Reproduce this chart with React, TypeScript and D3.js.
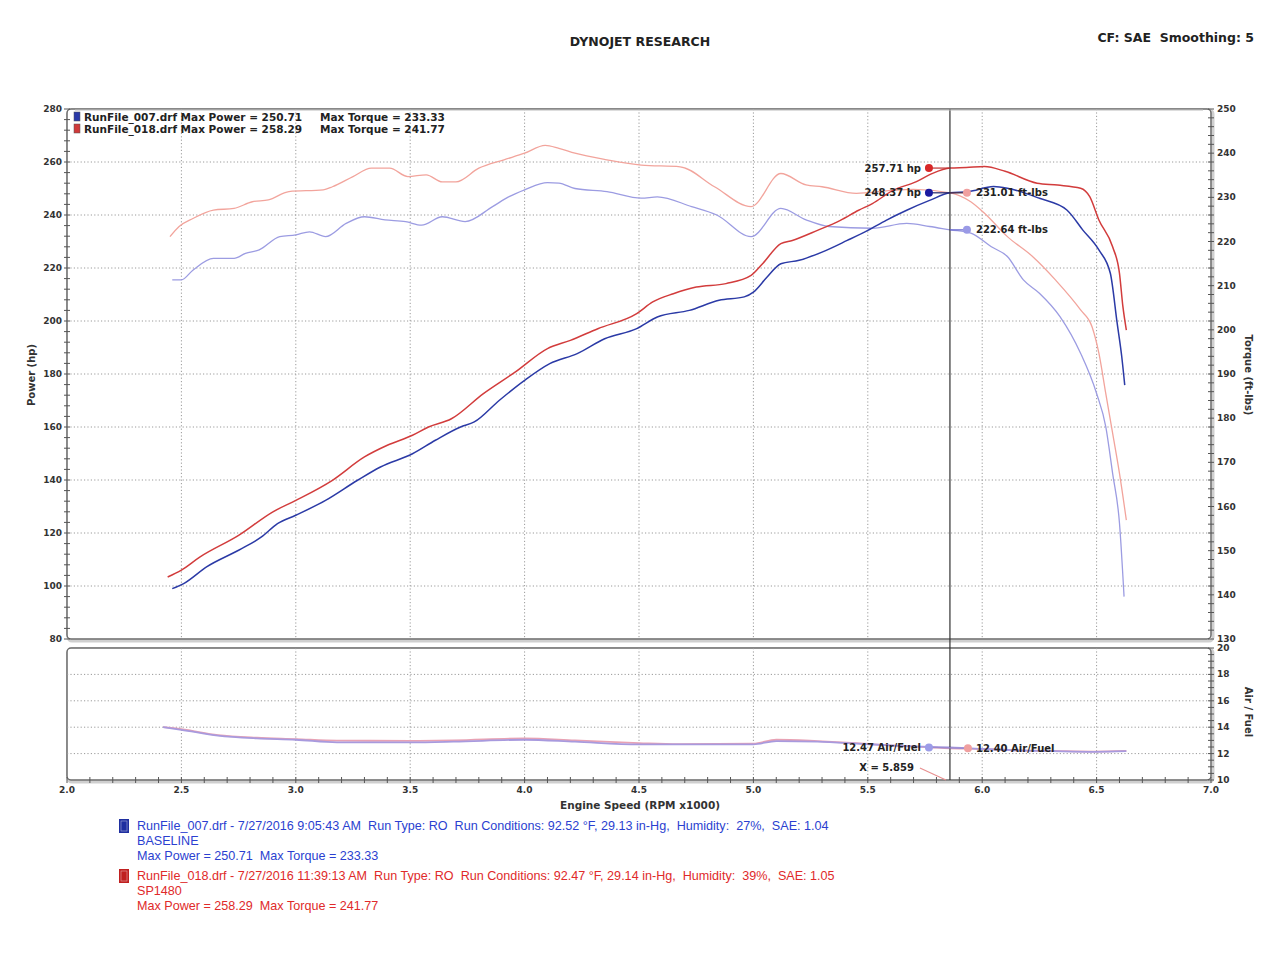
import React from "react";
import * as d3 from "d3";

// ---------- DATA ----------
const xTicks = [2.0, 2.5, 3.0, 3.5, 4.0, 4.5, 5.0, 5.5, 6.0, 6.5, 7.0];
const hpTicks = [80, 100, 120, 140, 160, 180, 200, 220, 240, 260, 280];
const tqTicks = [130, 140, 150, 160, 170, 180, 190, 200, 210, 220, 230, 240, 250];
const afrTicks = [10, 12, 14, 16, 18, 20];

// Run 018 (SP1480) power, hp
const redPowerRpm = [2.44, 2.5, 2.58, 2.75, 2.9, 3.0, 3.16, 3.3, 3.4, 3.51, 3.58, 3.68, 3.82, 3.96, 4.1, 4.2, 4.32, 4.49, 4.56, 4.65, 4.75, 4.88, 4.99, 5.04, 5.12, 5.17, 5.28, 5.38, 5.46, 5.52, 5.61, 5.71, 5.78, 5.86, 5.93, 6.01, 6.1, 6.24, 6.33, 6.43, 6.47, 6.51, 6.57, 6.6, 6.615, 6.63];
const redPowerHp = [103.4, 106, 110.9, 119.1, 128, 132.3, 139.9, 148.7, 153.1, 156.9, 160, 163.1, 172.6, 180.8, 189.6, 192.7, 197.1, 202.8, 207.2, 210.3, 212.8, 214.1, 217.2, 221.6, 229.2, 230.4, 234.2, 238, 241.8, 244.3, 249.3, 252.5, 255.6, 257.7, 257.9, 258.29, 256.5, 252, 251.3, 250.1, 246.9, 238.1, 228, 218, 205.4, 196.6];

// Run 007 (BASELINE) power, hp
const bluePowerRpm = [2.46, 2.51, 2.61, 2.75, 2.85, 2.92, 3.0, 3.13, 3.27, 3.37, 3.51, 3.61, 3.72, 3.78, 3.89, 4.0, 4.11, 4.23, 4.35, 4.49, 4.58, 4.72, 4.85, 4.96, 5.0, 5.06, 5.12, 5.2, 5.3, 5.41, 5.5, 5.58, 5.67, 5.77, 5.86, 5.94, 6.05, 6.11, 6.25, 6.37, 6.44, 6.51, 6.56, 6.59, 6.61, 6.623];
const bluePowerHp = [99, 100.9, 107.2, 113.5, 118.5, 123.5, 126.7, 132.3, 139.9, 144.9, 149.9, 155, 160, 161.9, 170.1, 177.6, 183.9, 187.7, 193.3, 197.1, 201.5, 204, 207.8, 209.1, 210.9, 216.6, 221.6, 222.9, 226, 230.4, 234.2, 238, 241.8, 245.5, 248.37, 248.8, 250.71, 250.1, 246.3, 241.9, 234.3, 226.8, 218, 199.1, 186.5, 175.8];

// Run 007 torque, ft-lbs
const blueTorqueRpm = [2.46, 2.5, 2.55, 2.64, 2.73, 2.78, 2.84, 2.93, 3.0, 3.06, 3.13, 3.22, 3.3, 3.39, 3.48, 3.55, 3.64, 3.74, 3.86, 3.93, 4.0, 4.1, 4.15, 4.22, 4.36, 4.51, 4.58, 4.73, 4.84, 4.99, 5.12, 5.23, 5.33, 5.52, 5.67, 5.77, 5.86, 5.95, 6.04, 6.11, 6.18, 6.25, 6.34, 6.43, 6.5, 6.54, 6.57, 6.6, 6.62];
const blueTorque = [211.3, 211.3, 213.5, 216.2, 216.2, 217.3, 218.1, 221.1, 221.5, 222.2, 221.1, 224.1, 225.6, 224.9, 224.5, 223.7, 225.6, 224.5, 227.9, 230.1, 231.7, 233.33, 233.2, 232, 231.3, 229.8, 230.1, 227.9, 226, 221.1, 227.5, 224.9, 223.4, 223, 224.1, 223.4, 222.64, 221.9, 218.8, 216.6, 211.3, 208.3, 203, 194.7, 185.6, 178.1, 167.5, 156.2, 139.6];

// Run 018 torque, ft-lbs
const redTorqueRpm = [2.45, 2.49, 2.55, 2.64, 2.73, 2.81, 2.88, 2.97, 3.12, 3.16, 3.25, 3.33, 3.41, 3.49, 3.57, 3.64, 3.7, 3.8, 3.91, 4.0, 4.09, 4.15, 4.22, 4.36, 4.51, 4.68, 4.83, 4.99, 5.12, 5.23, 5.3, 5.45, 5.59, 5.7, 5.86, 5.95, 6.01, 6.11, 6.22, 6.32, 6.43, 6.48, 6.51, 6.54, 6.57, 6.6, 6.63];
const redTorque = [221.1, 223.4, 225.2, 227.1, 227.5, 229, 229.4, 231.3, 231.7, 232.4, 234.7, 236.6, 236.6, 234.7, 235.1, 233.5, 233.5, 236.6, 238.5, 240, 241.77, 241.1, 240, 238.5, 237.3, 236.9, 232.4, 227.9, 235.4, 232.8, 232.4, 230.9, 231.5, 231.8, 231.01, 229, 226.4, 221.1, 216.6, 211.3, 204.5, 200.7, 194.7, 185.6, 176.6, 167.5, 156.9];

// Air / Fuel
const afrRpm = [2.42, 2.5, 2.66, 2.83, 3.0, 3.18, 3.5, 3.69, 4.0, 4.22, 4.5, 4.67, 5.0, 5.1, 5.28, 5.45, 5.62, 5.77, 5.86, 5.93, 6.14, 6.31, 6.49, 6.63];
const blueAfr = [14, 13.8, 13.36, 13.15, 13.05, 12.85, 12.85, 12.9, 13.05, 12.9, 12.7, 12.7, 12.7, 12.95, 12.9, 12.76, 12.6, 12.5, 12.47, 12.42, 12.25, 12.18, 12.13, 12.18];
const redAfr = [14, 13.85, 13.4, 13.2, 13.1, 12.98, 12.97, 13.0, 13.15, 13.0, 12.8, 12.72, 12.75, 13.05, 12.95, 12.8, 12.6, 12.48, 12.4, 12.38, 12.25, 12.2, 12.15, 12.2];

const cursorRpm = 5.859;
const cursorHpRed = 257.71;
const cursorHpBlue = 248.37;
const cursorTqRed = 231.01;
const cursorTqBlue = 222.64;
const cursorAfrBlue = 12.47;
const cursorAfrRed = 12.4;

const legendTop = [
  { name: "RunFile_007.drf Max Power = 250.71", torque: "Max Torque = 233.33", color: "#2a3aa8" },
  { name: "RunFile_018.drf Max Power = 258.29", torque: "Max Torque = 241.77", color: "#d03a3a" },
];
const legendBottom = [
  {
    line1: "RunFile_007.drf - 7/27/2016 9:05:43 AM  Run Type: RO  Run Conditions: 92.52 \u00b0F, 29.13 in-Hg,  Humidity:  27%,  SAE: 1.04",
    line2: "BASELINE",
    line3: "Max Power = 250.71  Max Torque = 233.33",
    color: "#2b3fd0",
    box: "#1f2fa0",
  },
  {
    line1: "RunFile_018.drf - 7/27/2016 11:39:13 AM  Run Type: RO  Run Conditions: 92.47 \u00b0F, 29.14 in-Hg,  Humidity:  39%,  SAE: 1.05",
    line2: "SP1480",
    line3: "Max Power = 258.29  Max Torque = 241.77",
    color: "#e02a2a",
    box: "#c02020",
  },
];

// ---------- LAYOUT ----------
const L = 67, R = 1211;
const mainTop = 109, mainBot = 639;
const lowTop = 648, lowBot = 780;

const FONT = "'DejaVu Sans', Verdana, sans-serif";
const FONT2 = "'Liberation Sans', Arial, sans-serif";
const PRE: React.CSSProperties = { whiteSpace: "pre" };

export default function App() {
  const x = d3.scaleLinear().domain([2, 7]).range([L, R]);
  const yHp = d3.scaleLinear().domain([80, 280]).range([mainBot, mainTop]);
  const yTq = d3.scaleLinear().domain([130, 250]).range([mainBot, mainTop]);
  const yAfr = d3.scaleLinear().domain([10, 20]).range([lowBot, lowTop]);

  const mk = (xs: number[], ys: number[], ys2: (v: number) => number) =>
    d3.line<number>().x((_, i) => x(xs[i])).y((v) => ys2(v)).curve(d3.curveMonotoneX)(ys) || "";

  const hpMinor = d3.range(80, 280.01, 4);
  const tqMinor = d3.range(130, 250.01, 2);
  const xMinor = d3.range(2, 7.001, 0.1);
  const afrMinor = d3.range(10, 20.01, 0.5);

  const cx = x(cursorRpm);
  const gridStyle = { stroke: "#9a9a9a", strokeWidth: 1, strokeDasharray: "1.2,2.2" };

  return (
    <svg width={1280} height={960} style={{ position: "absolute", left: 0, top: 0, background: "#fff" }}>
      <rect x={0} y={0} width={1280} height={960} fill="#fff" />
      {/* header */}
      <text x={640} y={46} textAnchor="middle" fontFamily={FONT} fontWeight="bold" fontSize={12.5} fill="#222">DYNOJET RESEARCH</text>
      <text x={1254} y={42} textAnchor="end" fontFamily={FONT} fontWeight="bold" fontSize={12.5} fill="#222" style={PRE}>CF: SAE  Smoothing: 5</text>

      {/* panel shadows and frames */}
      <rect x={L + 1} y={mainTop + 1} width={R - L + 1} height={mainBot - mainTop + 1} rx={4} fill="none" stroke="#cfcfcf" strokeWidth={3} />
      <rect x={L} y={mainTop} width={R - L} height={mainBot - mainTop} rx={4} fill="#fff" stroke="#6a6a6a" strokeWidth={1.5} />
      <rect x={L + 1} y={lowTop + 1} width={R - L + 1} height={lowBot - lowTop + 1} rx={4} fill="none" stroke="#cfcfcf" strokeWidth={3} />
      <rect x={L} y={lowTop} width={R - L} height={lowBot - lowTop} rx={4} fill="#fff" stroke="#6a6a6a" strokeWidth={1.5} />

      {/* grid main */}
      {hpTicks.filter((t) => t > 80 && t < 280).map((t) => (
        <line key={"gh" + t} x1={L} x2={R} y1={yHp(t)} y2={yHp(t)} {...gridStyle} />
      ))}
      {xTicks.filter((t) => t > 2 && t < 7).map((t) => (
        <line key={"gv" + t} x1={x(t)} x2={x(t)} y1={mainTop} y2={mainBot} {...gridStyle} />
      ))}
      {/* grid lower */}
      {afrTicks.filter((t) => t > 10 && t < 20).map((t) => (
        <line key={"ga" + t} x1={L} x2={R} y1={yAfr(t)} y2={yAfr(t)} {...gridStyle} />
      ))}
      {xTicks.filter((t) => t > 2 && t < 7).map((t) => (
        <line key={"gvl" + t} x1={x(t)} x2={x(t)} y1={lowTop} y2={lowBot} {...gridStyle} />
      ))}

      {/* left axis ticks */}
      {hpMinor.map((t) => (
        <line key={"hm" + t} x1={L - 3} x2={L + 3} y1={yHp(t)} y2={yHp(t)} stroke="#555" strokeWidth={1} />
      ))}
      {hpTicks.map((t) => (
        <text key={"hl" + t} x={L - 5} y={yHp(t) + 3} textAnchor="end" fontFamily={FONT} fontWeight="bold" fontSize={9} fill="#333">{t}</text>
      ))}
      {/* right axis ticks */}
      {tqMinor.map((t) => (
        <line key={"tm" + t} x1={R - 3} x2={R + 3} y1={yTq(t)} y2={yTq(t)} stroke="#555" strokeWidth={1} />
      ))}
      {tqTicks.map((t) => (
        <text key={"tl" + t} x={R + 6} y={yTq(t) + 3} textAnchor="start" fontFamily={FONT} fontWeight="bold" fontSize={9} fill="#333">{t}</text>
      ))}
      {/* lower right axis */}
      {afrMinor.map((t) => (
        <line key={"am" + t} x1={R - 3} x2={R + 3} y1={yAfr(t)} y2={yAfr(t)} stroke="#555" strokeWidth={1} />
      ))}
      {afrTicks.map((t) => (
        <text key={"al" + t} x={R + 6} y={yAfr(t) + 3} textAnchor="start" fontFamily={FONT} fontWeight="bold" fontSize={9} fill="#333">{t}</text>
      ))}
      {/* x axis ticks */}
      {xMinor.map((t, i) => (
        <line key={"xm" + i} x1={x(t)} x2={x(t)} y1={lowBot - 3} y2={lowBot + 3} stroke="#555" strokeWidth={1} />
      ))}
      {xTicks.map((t) => (
        <text key={"xl" + t} x={x(t)} y={793} textAnchor="middle" fontFamily={FONT} fontWeight="bold" fontSize={9} fill="#333">{t.toFixed(1)}</text>
      ))}

      {/* axis titles */}
      <text transform={`translate(35,375) rotate(-90)`} textAnchor="middle" fontFamily={FONT} fontWeight="bold" fontSize={10} fill="#333">Power (hp)</text>
      <text transform={`translate(1245,375) rotate(90)`} textAnchor="middle" fontFamily={FONT} fontWeight="bold" fontSize={10} fill="#333">Torque (ft-lbs)</text>
      <text transform={`translate(1245,712) rotate(90)`} textAnchor="middle" fontFamily={FONT} fontWeight="bold" fontSize={10} fill="#333">Air / Fuel</text>
      <text x={640} y={809} textAnchor="middle" fontFamily={FONT} fontWeight="bold" fontSize={10.5} fill="#333">Engine Speed (RPM x1000)</text>

      {/* curves: torque (light) */}
      <path d={mk(redTorqueRpm, redTorque, yTq)} fill="none" stroke="#f2a49c" strokeWidth={1.3} />
      <path d={mk(blueTorqueRpm, blueTorque, yTq)} fill="none" stroke="#9c9ce2" strokeWidth={1.3} />
      {/* curves: power */}
      <path d={mk(redPowerRpm, redPowerHp, yHp)} fill="none" stroke="#d23c3c" strokeWidth={1.5} />
      <path d={mk(bluePowerRpm, bluePowerHp, yHp)} fill="none" stroke="#2b3aa6" strokeWidth={1.5} />
      {/* AFR */}
      <path d={mk(afrRpm, redAfr, yAfr)} fill="none" stroke="#e8a2b4" strokeWidth={1.8} />
      <path d={mk(afrRpm, blueAfr, yAfr)} fill="none" stroke="#a89ade" strokeWidth={1.8} />

      {/* cursor */}
      <line x1={cx} x2={cx} y1={mainTop} y2={lowBot} stroke="#333" strokeWidth={1.2} />

      {/* cursor readouts main */}
      <line x1={cx - 21} x2={cx} y1={yHp(cursorHpRed)} y2={yHp(cursorHpRed)} stroke="#c03030" strokeWidth={1.2} />
      <circle cx={cx - 21} cy={yHp(cursorHpRed)} r={4} fill="#d82828" />
      <text x={cx - 29} y={yHp(cursorHpRed) + 3.5} textAnchor="end" fontFamily={FONT} fontWeight="bold" fontSize={10} fill="#222">{cursorHpRed.toFixed(2)} hp</text>

      <line x1={cx - 21} x2={cx} y1={yHp(cursorHpBlue)} y2={yHp(cursorHpBlue)} stroke="#222266" strokeWidth={1.2} />
      <circle cx={cx - 21} cy={yHp(cursorHpBlue)} r={4} fill="#1a1aa0" />
      <text x={cx - 29} y={yHp(cursorHpBlue) + 3.5} textAnchor="end" fontFamily={FONT} fontWeight="bold" fontSize={10} fill="#222">{cursorHpBlue.toFixed(2)} hp</text>

      <line x1={cx} x2={cx + 17} y1={yTq(cursorTqRed)} y2={yTq(cursorTqRed)} stroke="#553344" strokeWidth={1.2} />
      <circle cx={cx + 17} cy={yTq(cursorTqRed)} r={4} fill="#f0a0a0" />
      <text x={cx + 26} y={yTq(cursorTqRed) + 3.5} textAnchor="start" fontFamily={FONT} fontWeight="bold" fontSize={10} fill="#222">{cursorTqRed.toFixed(2)} ft-lbs</text>

      <line x1={cx} x2={cx + 17} y1={yTq(cursorTqBlue)} y2={yTq(cursorTqBlue)} stroke="#6a6ad0" strokeWidth={1.2} />
      <circle cx={cx + 17} cy={yTq(cursorTqBlue)} r={4} fill="#9a9ae6" />
      <text x={cx + 26} y={yTq(cursorTqBlue) + 3.5} textAnchor="start" fontFamily={FONT} fontWeight="bold" fontSize={10} fill="#222">{cursorTqBlue.toFixed(2)} ft-lbs</text>

      {/* cursor readouts lower */}
      <line x1={cx - 21} x2={cx + 18} y1={yAfr(cursorAfrBlue)} y2={yAfr(cursorAfrRed)} stroke="#9a8ad0" strokeWidth={1.2} />
      <circle cx={cx - 21} cy={yAfr(cursorAfrBlue)} r={4} fill="#9c9ce8" />
      <text x={cx - 29} y={yAfr(cursorAfrBlue) + 3.5} textAnchor="end" fontFamily={FONT} fontWeight="bold" fontSize={10} fill="#222">{cursorAfrBlue.toFixed(2)} Air/Fuel</text>
      <circle cx={cx + 18} cy={yAfr(cursorAfrRed)} r={4} fill="#f0a0a0" />
      <text x={cx + 26} y={yAfr(cursorAfrRed) + 3.5} textAnchor="start" fontFamily={FONT} fontWeight="bold" fontSize={10} fill="#222">{cursorAfrRed.toFixed(2)} Air/Fuel</text>
      <line x1={cx - 30} x2={cx - 4} y1={lowBot - 12} y2={lowBot} stroke="#e89090" strokeWidth={1.2} />
      <text x={cx - 36} y={lowBot - 9} textAnchor="end" fontFamily={FONT} fontWeight="bold" fontSize={10} fill="#222">X = {cursorRpm.toFixed(3)}</text>

      {/* top legend */}
      <line x1={L + 8} x2={R - 8} y1={mainTop + 1} y2={mainTop + 1} stroke="#bbb" strokeWidth={1} />
      {legendTop.map((d, i) => (
        <g key={"lt" + i}>
          <rect x={74} y={112 + i * 12} width={6} height={9} fill={d.color} stroke="#555" strokeWidth={0.5} />
          <text x={84} y={121 + i * 12} fontFamily={FONT} fontWeight="bold" fontSize={10.5} fill="#222">{d.name}</text>
          <text x={320} y={121 + i * 12} fontFamily={FONT} fontWeight="bold" fontSize={10.5} fill="#222">{d.torque}</text>
        </g>
      ))}

      {/* bottom legend */}
      {legendBottom.map((d, i) => (
        <g key={"lb" + i}>
          <rect x={119} y={819 + i * 50} width={10} height={14} fill={d.box} />
          <rect x={121} y={821 + i * 50} width={6} height={10} fill="none" stroke="#fff" strokeWidth={0.6} opacity={0.6} />
          <text x={137} y={830 + i * 50} fontFamily={FONT2} fontSize={12.6} fill={d.color} style={PRE}>{d.line1}</text>
          <text x={137} y={845 + i * 50} fontFamily={FONT2} fontSize={12.6} fill={d.color} style={PRE}>{d.line2}</text>
          <text x={137} y={860 + i * 50} fontFamily={FONT2} fontSize={12.6} fill={d.color} style={PRE}>{d.line3}</text>
        </g>
      ))}
    </svg>
  );
}
